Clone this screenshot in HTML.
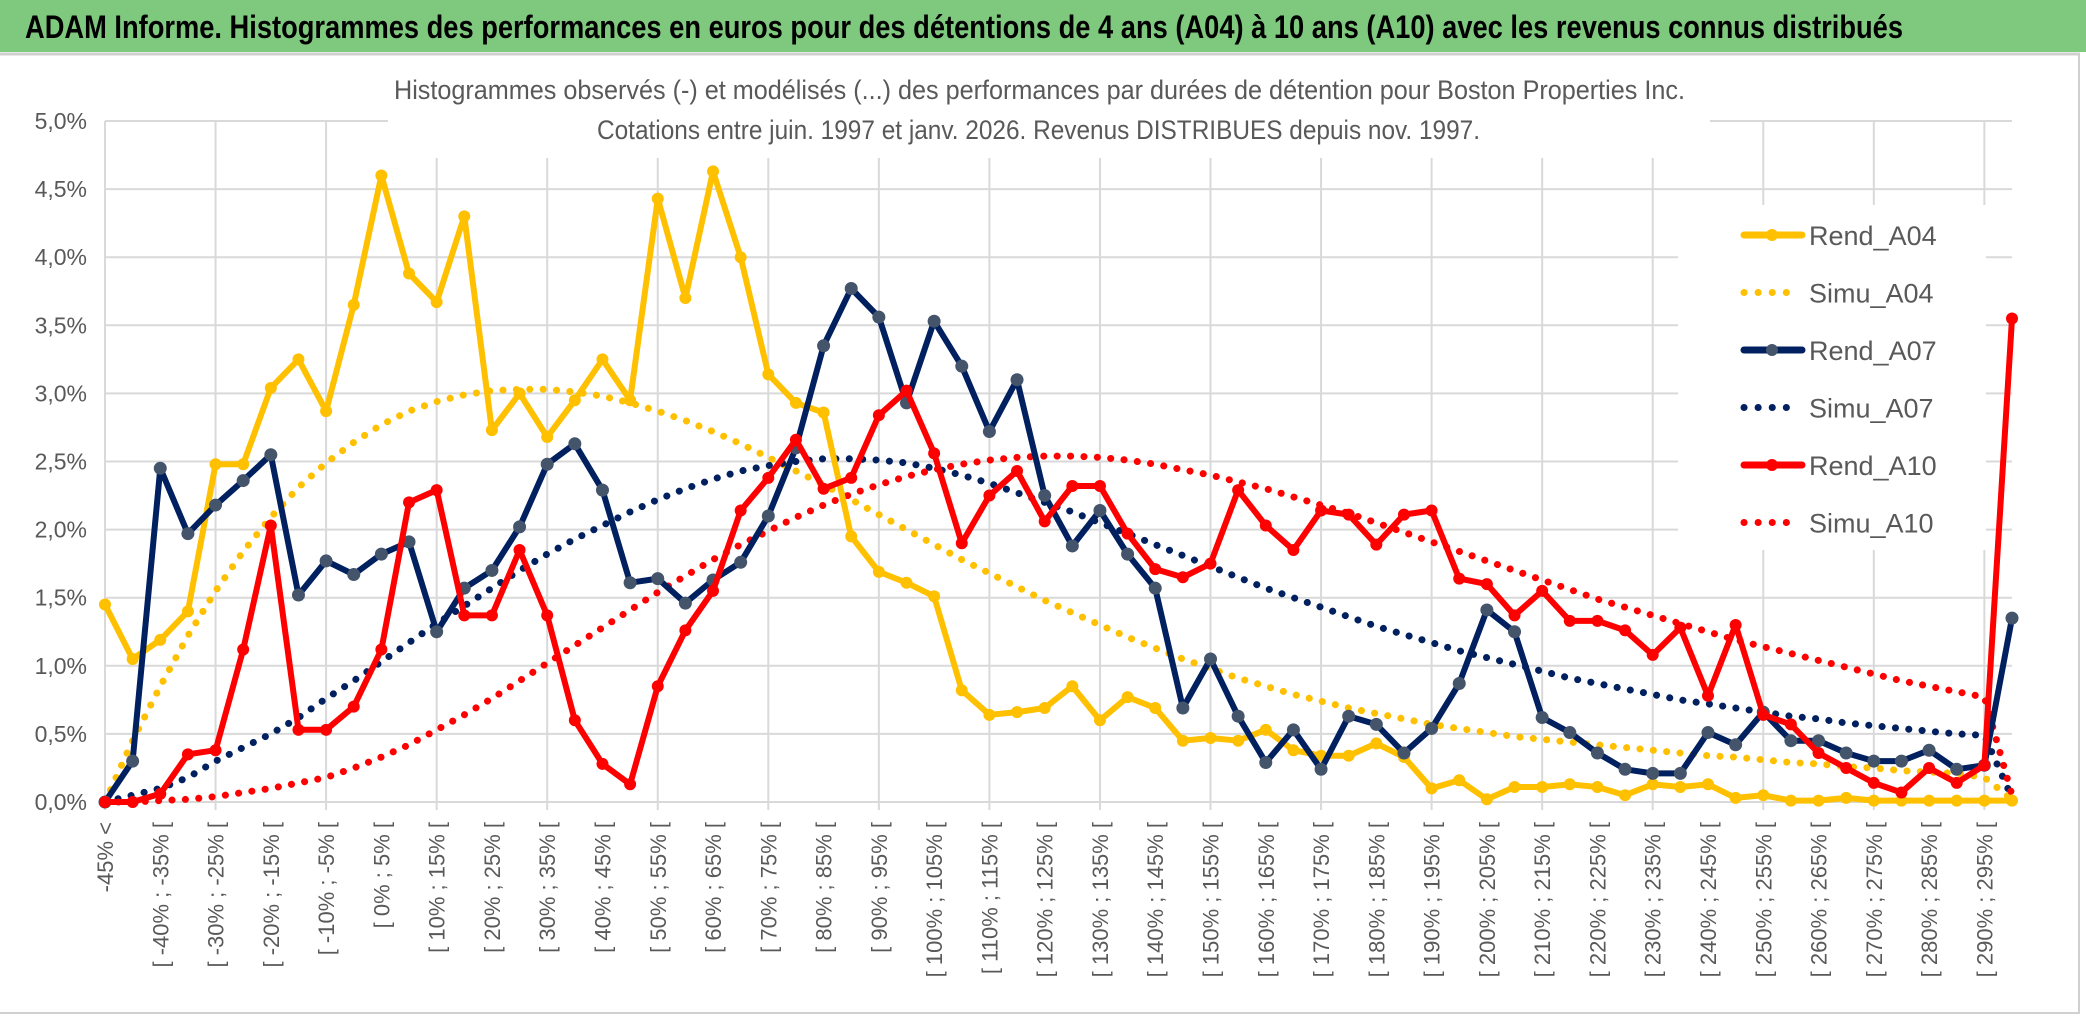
<!DOCTYPE html>
<html><head><meta charset="utf-8"><style>
html,body{margin:0;padding:0;background:#fff;}
svg{display:block;font-family:"Liberation Sans Narrow","Liberation Sans",sans-serif;}
</style></head><body>
<svg id="chart" width="2086" height="1033" viewBox="0 0 2086 1033" xmlns="http://www.w3.org/2000/svg">
<rect x="0" y="0" width="2086" height="1033" fill="#fff"/>
<rect x="0" y="0" width="2086" height="52" fill="#7FC97F"/>
<line x1="0" y1="54" x2="2080" y2="54" stroke="#d0d0d0" stroke-width="3"/>
<text x="25" y="38" font-size="32" font-weight="bold" fill="#000" textLength="1878" lengthAdjust="spacingAndGlyphs">ADAM Informe. Histogrammes des performances en euros pour des détentions de 4 ans (A04) à 10 ans (A10) avec les revenus connus distribués</text>
<rect x="2078" y="54" width="2" height="960" fill="#d0d0d0"/>
<rect x="0" y="1012" width="2080" height="2" fill="#d0d0d0"/>
<g id="grid"></g>
<rect x="388" y="70" width="1322" height="88" fill="#fff"/>
<text x="394" y="99" font-size="27" fill="#595959" textLength="1291" lengthAdjust="spacingAndGlyphs">Histogrammes observés (-) et modélisés (...) des performances par durées de détention pour Boston Properties Inc.</text>
<text x="597" y="139" font-size="27" fill="#595959" textLength="883" lengthAdjust="spacingAndGlyphs">Cotations entre juin. 1997 et janv. 2026. Revenus DISTRIBUES depuis nov. 1997.</text>
<g id="axes"></g>
<g id="series"></g>
<rect x="1678" y="205" width="308" height="345" fill="#fff"/>
<g id="legend"></g>
</svg>
<script>
const categories = (function(){const c=["-45% <"];for(let k=1;k<70;k++){const a=-45+5*(k-1);c.push("[ "+a+"% ; "+(a+5)+"% [");}return c;})();
const yTicks = [0,0.5,1,1.5,2,2.5,3,3.5,4,4.5,5];
const yTickLabels = ["0,0%","0,5%","1,0%","1,5%","2,0%","2,5%","3,0%","3,5%","4,0%","4,5%","5,0%"];
const rendA04 = [1.45,1.05,1.19,1.40,2.48,2.48,3.04,3.25,2.87,3.65,4.60,3.88,3.67,4.30,2.73,3.00,2.68,2.95,3.25,2.95,4.43,3.70,4.63,4.00,3.14,2.93,2.86,1.95,1.69,1.61,1.51,0.82,0.64,0.66,0.69,0.85,0.60,0.77,0.69,0.45,0.47,0.45,0.53,0.38,0.34,0.34,0.43,0.33,0.10,0.16,0.02,0.11,0.11,0.13,0.11,0.05,0.13,0.11,0.13,0.03,0.05,0.01,0.01,0.03,0.01,0.01,0.01,0.01,0.01,0.01];
const simuA04 = [0,0.45,0.85,1.22,1.55,1.84,2.09,2.31,2.49,2.64,2.77,2.87,2.94,2.99,3.02,3.03,3.03,3.01,2.98,2.93,2.87,2.80,2.72,2.63,2.53,2.43,2.33,2.22,2.11,2.00,1.89,1.78,1.68,1.58,1.48,1.39,1.30,1.21,1.13,1.05,0.98,0.91,0.85,0.79,0.74,0.69,0.65,0.61,0.57,0.54,0.51,0.48,0.46,0.44,0.42,0.40,0.38,0.36,0.34,0.33,0.31,0.29,0.28,0.26,0.25,0.23,0.22,0.21,0.18,0.02];
const rendA07 = [0,0.30,2.45,1.97,2.18,2.36,2.55,1.52,1.77,1.67,1.82,1.91,1.25,1.57,1.70,2.02,2.48,2.63,2.29,1.61,1.64,1.46,1.63,1.76,2.10,2.60,3.35,3.77,3.56,2.93,3.53,3.20,2.72,3.10,2.25,1.88,2.14,1.82,1.57,0.69,1.05,0.63,0.29,0.53,0.24,0.63,0.57,0.36,0.54,0.87,1.41,1.25,0.62,0.51,0.36,0.24,0.21,0.21,0.51,0.42,0.66,0.45,0.45,0.36,0.30,0.30,0.38,0.24,0.27,1.35];
const simuA07 = [0,0.05,0.10,0.18,0.30,0.40,0.50,0.62,0.76,0.89,1.03,1.17,1.31,1.44,1.57,1.70,1.82,1.93,2.03,2.13,2.22,2.30,2.37,2.43,2.47,2.50,2.52,2.52,2.51,2.49,2.45,2.40,2.34,2.27,2.20,2.13,2.05,1.97,1.89,1.81,1.73,1.65,1.57,1.50,1.43,1.36,1.29,1.23,1.17,1.11,1.06,1.01,0.96,0.91,0.87,0.83,0.79,0.75,0.72,0.69,0.66,0.63,0.61,0.58,0.56,0.54,0.52,0.50,0.49,0.03];
const rendA10 = [0,0,0.06,0.35,0.38,1.12,2.03,0.53,0.53,0.70,1.12,2.20,2.29,1.37,1.37,1.85,1.37,0.60,0.28,0.13,0.85,1.26,1.55,2.14,2.38,2.66,2.30,2.38,2.84,3.02,2.56,1.90,2.25,2.43,2.06,2.32,2.32,1.97,1.71,1.65,1.75,2.29,2.03,1.85,2.14,2.11,1.89,2.11,2.14,1.64,1.60,1.37,1.55,1.33,1.33,1.26,1.08,1.28,0.78,1.30,0.64,0.57,0.36,0.25,0.14,0.07,0.25,0.14,0.27,3.55];
const simuA10 = [0,0,0.01,0.02,0.04,0.07,0.10,0.14,0.18,0.25,0.33,0.42,0.53,0.64,0.76,0.89,1.02,1.15,1.28,1.41,1.54,1.66,1.78,1.89,1.99,2.09,2.18,2.26,2.33,2.39,2.44,2.48,2.51,2.53,2.54,2.54,2.53,2.51,2.48,2.44,2.40,2.35,2.30,2.24,2.18,2.12,2.05,1.98,1.91,1.84,1.77,1.70,1.63,1.56,1.49,1.43,1.37,1.31,1.25,1.19,1.14,1.09,1.04,0.99,0.94,0.89,0.85,0.81,0.77,0.05];
const seriesNames = ["Rend_A04","Simu_A04","Rend_A07","Simu_A07","Rend_A10","Simu_A10"];

const NS="http://www.w3.org/2000/svg";
const X0=105, X1=2012, Y0=802, YTOP=121, YMAX=5;
function xPos(i){return X0+i*(X1-X0)/(categories.length-1);}
function yPos(v){return Y0-v*(Y0-YTOP)/YMAX;}
function mk(tag,attrs,parent){const e=document.createElementNS(NS,tag);for(const k in attrs)e.setAttribute(k,attrs[k]);parent.appendChild(e);return e;}

const grid=document.getElementById('grid');
yTicks.forEach((t,j)=>{
  const l=mk('line',{x1:X0,x2:X1,y1:yPos(t),y2:yPos(t),stroke:'#d9d9d9','stroke-width':2},grid);
  
  
});
for(let i=0;i<categories.length;i+=4){
  const l=mk('line',{x1:xPos(i),x2:xPos(i),y1:YTOP,y2:Y0+8,stroke:'#d9d9d9','stroke-width':2},grid);
  
  
}
const axes=document.getElementById('axes');
yTicks.forEach((t,j)=>{
  const tx=mk('text',{x:87,y:yPos(t)+8,'text-anchor':'end','font-size':23,fill:'#595959'},axes);
  tx.textContent=yTickLabels[j];
  
  
});
for(let i=0;i<categories.length;i+=2){
  const x=xPos(i)+8, y=822;
  const tx=mk('text',{x:x,y:y,transform:'rotate(-90 '+x+' '+y+')','text-anchor':'end','font-size':22,fill:'#595959','font-family':'Liberation Sans, sans-serif'},axes);
  tx.textContent=categories[i];
  
  
}
const ser=document.getElementById('series');
function pts(arr){return arr.map((v,i)=>xPos(i).toFixed(1)+','+yPos(v).toFixed(1)).join(' ');}
function dotted(arr,color,name){
  const p=mk('polyline',{points:pts(arr),fill:'none',stroke:color,'stroke-width':7,'stroke-linecap':'round','stroke-dasharray':'0.1 13.3'},ser);
  
  
}
function solid(arr,color,mcolor,r,name){
  const g=mk('g',{},ser);
  
  
  mk('polyline',{points:pts(arr),fill:'none',stroke:color,'stroke-width':6,'stroke-linejoin':'round'},g);
  arr.forEach((v,i)=>{
    const c=mk('circle',{cx:xPos(i),cy:yPos(v),r:r,fill:mcolor},g);
    
    
  });
}
dotted(simuA04,'#FFC000','simu-a04-line');
dotted(simuA07,'#002060','simu-a07-line');
dotted(simuA10,'#FF0000','simu-a10-line');
solid(rendA04,'#FFC000','#FFC000',6,'rend-a04-line');
solid(rendA07,'#002060','#44546A',6.5,'rend-a07-line');
solid(rendA10,'#FF0000','#FF0000',6,'rend-a10-line');

const leg=document.getElementById('legend');
const legColors=['#FFC000','#FFC000','#002060','#002060','#FF0000','#FF0000'];
const legMarker=['#FFC000',null,'#44546A',null,'#FF0000',null];
seriesNames.forEach((n,k)=>{
  const y=235+k*57.5;
  const g=mk('g',{},leg);
  
  
  if(legMarker[k]){
    mk('line',{x1:1744,x2:1802,y1:y,y2:y,stroke:legColors[k],'stroke-width':7,'stroke-linecap':'round'},g);
    mk('circle',{cx:1772,cy:y,r:6,fill:legMarker[k]},g);
  } else {
    mk('line',{x1:1744,x2:1800,y1:y,y2:y,stroke:legColors[k],'stroke-width':7,'stroke-linecap':'round','stroke-dasharray':'0.1 14'},g);
  }
  const t=mk('text',{x:1809,y:y+10,'font-size':27,fill:'#595959'},g);
  t.textContent=n;
});
</script>
</body></html>
